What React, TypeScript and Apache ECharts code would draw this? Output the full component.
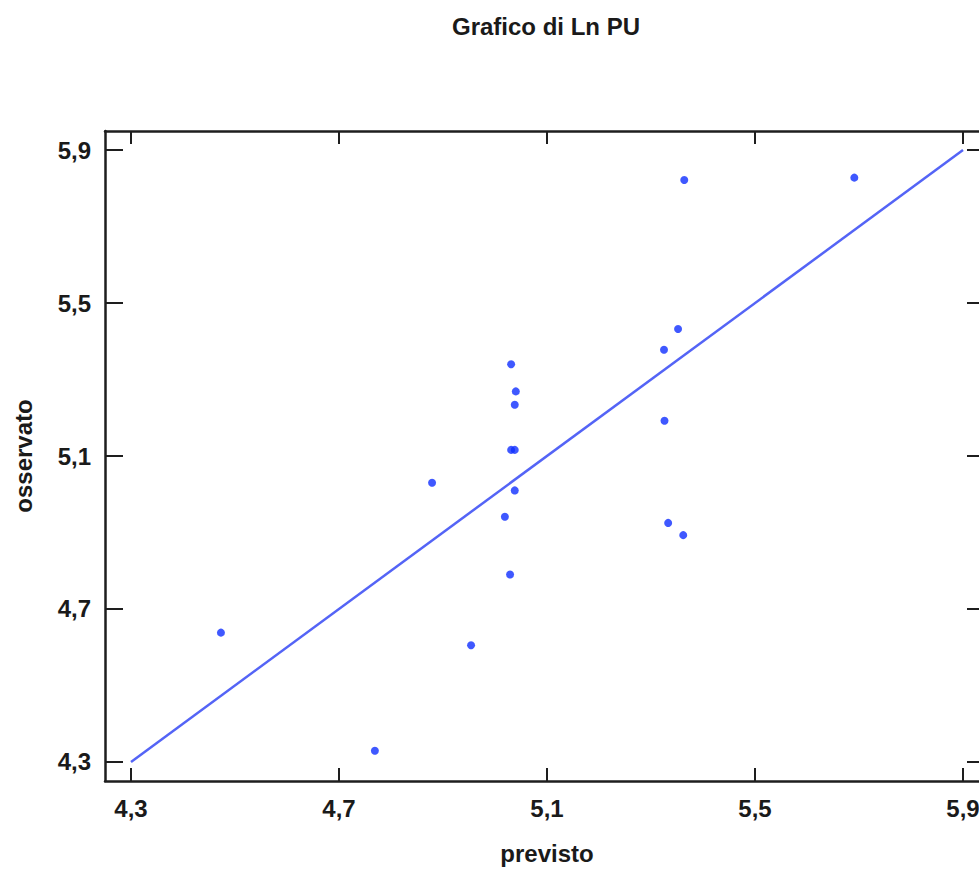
import React, { useEffect, useRef } from "react";
import * as echarts from "echarts";

const titleText = "Grafico di Ln PU";
const xName = "previsto";
const yName = "osservato";
const tickValues = [4.3, 4.7, 5.1, 5.5, 5.9];
const axisMin = 4.25;
const axisMax = 5.95;

const previsto = [
  4.473, 4.769, 4.954, 4.879, 5.019, 5.029, 5.038, 5.031, 5.038,
  5.031, 5.040, 5.038, 5.325, 5.352, 5.326, 5.333, 5.362, 5.364, 5.691,
];
const osservato = [
  4.638, 4.329, 4.605, 5.030, 4.941, 4.790, 5.010, 5.116, 5.116,
  5.340, 5.269, 5.234, 5.378, 5.432, 5.192, 4.925, 4.893, 5.822, 5.828,
];
const diagonal = [
  [4.3, 4.3],
  [5.9, 5.9],
];

const fmt = (v: number) => v.toFixed(1).replace(".", ",");
const font = "Liberation Sans, Arial, Helvetica, sans-serif";
const frameColor = "#1e1e1e";
const textColor = "#1a1a1a";

export default function App() {
  const ref = useRef<HTMLDivElement>(null);
  useEffect(() => {
    if (!ref.current) return;
    const chart = echarts.init(ref.current, undefined, { renderer: "svg" });
    const points = previsto.map((x, i) => [x, osservato[i]]);
    const baseAxis = {
      type: "value" as const,
      min: axisMin,
      max: axisMax,
      splitLine: { show: false },
      axisLine: { show: true, lineStyle: { color: frameColor, width: 2.5 } },
    };
    chart.setOption({
      animation: false,
      backgroundColor: "#ffffff",
      title: {
        text: titleText,
        left: 541,
        top: 9,
        textAlign: "center",
        textStyle: { fontFamily: font, fontWeight: "bold", fontSize: 24, color: textColor },
      },
      grid: { left: 105, top: 131, right: 11, bottom: 89, containLabel: false },
      xAxis: [
        {
          ...baseAxis,
          position: "bottom",
          name: xName,
          nameLocation: "middle",
          nameGap: 60,
          nameTextStyle: { fontFamily: font, fontWeight: "bold", fontSize: 24, color: textColor },
          axisTick: {
            show: true,
            inside: true,
            length: 13,
            customValues: tickValues,
            lineStyle: { color: frameColor, width: 2 },
          },
          axisLabel: {
            show: true,
            customValues: tickValues,
            formatter: (v: number) => fmt(v),
            margin: 15,
            fontFamily: font,
            fontWeight: "bold",
            fontSize: 24,
            color: textColor,
          },
        },
        {
          ...baseAxis,
          position: "top",
          axisTick: {
            show: true,
            inside: true,
            length: 13,
            customValues: tickValues,
            lineStyle: { color: frameColor, width: 2 },
          },
          axisLabel: { show: false },
        },
      ],
      yAxis: [
        {
          ...baseAxis,
          position: "left",
          name: yName,
          nameLocation: "middle",
          nameGap: 70,
          nameTextStyle: { fontFamily: font, fontWeight: "bold", fontSize: 24, color: textColor },
          axisTick: {
            show: true,
            inside: true,
            length: 18,
            customValues: tickValues,
            lineStyle: { color: frameColor, width: 2 },
          },
          axisLabel: {
            show: true,
            customValues: tickValues,
            formatter: (v: number) => fmt(v),
            margin: 14,
            fontFamily: font,
            fontWeight: "bold",
            fontSize: 24,
            color: textColor,
          },
        },
        {
          ...baseAxis,
          position: "right",
          axisTick: {
            show: true,
            inside: true,
            length: 22,
            customValues: tickValues,
            lineStyle: { color: frameColor, width: 2 },
          },
          axisLabel: { show: false },
        },
      ],
      series: [
        {
          type: "line",
          xAxisIndex: 0,
          yAxisIndex: 0,
          data: diagonal,
          showSymbol: false,
          symbol: "none",
          lineStyle: { color: "#5464f6", width: 2.5 },
          z: 2,
        },
        {
          type: "scatter",
          xAxisIndex: 0,
          yAxisIndex: 0,
          data: points,
          symbol: "circle",
          symbolSize: 8,
          itemStyle: { color: "#0f2eff" },
          z: 3,
        },
      ],
    });
    return () => chart.dispose();
  }, []);
  return (
    <div
      style={{
        position: "fixed",
        left: 0,
        top: 0,
        width: 979,
        height: 870,
        overflow: "hidden",
        background: "#fff",
      }}
    >
      <div ref={ref} style={{ width: 1000, height: 870 }} />
    </div>
  );
}
